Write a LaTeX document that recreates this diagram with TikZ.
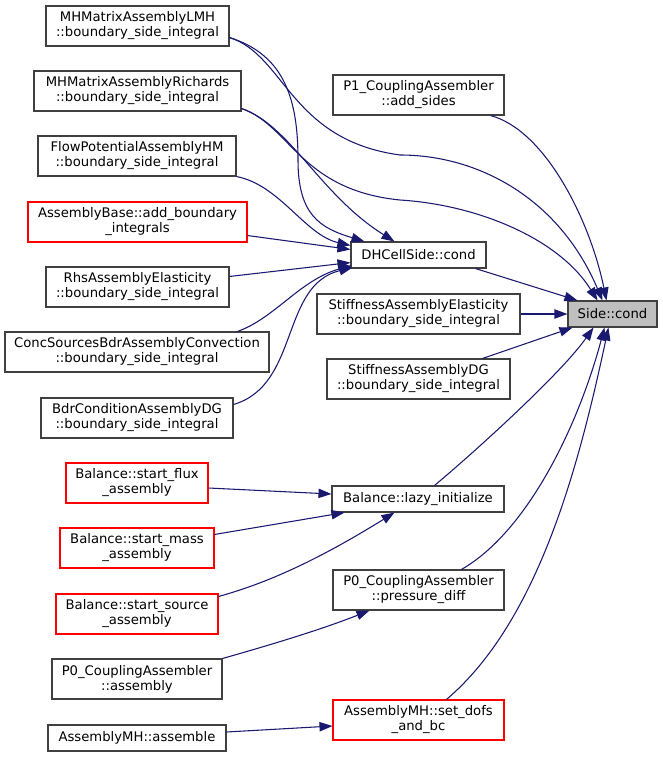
\documentclass[tikz,border=0pt]{standalone}
\usepackage{fontspec}
\setmainfont{DejaVu Sans}
\usetikzlibrary{arrows.meta,calc}
\definecolor{edgeblue}{RGB}{25,25,112}
\definecolor{boxline}{RGB}{64,64,64}
\definecolor{boxred}{RGB}{255,0,0}
\definecolor{curfill}{RGB}{191,191,191}

\begin{document}
\begin{tikzpicture}[x=0.75pt,y=0.75pt,yscale=-1,xscale=1,
  fn/.style={draw=boxline,line width=0.8pt,fill=white,align=center,inner sep=0pt,font=\fontsize{9.9}{11.25}\selectfont,minimum height=30pt},
  fnred/.style={fn,draw=boxred},
  fnone/.style={minimum height=19.5pt},
  fncur/.style={fn,fnone,fill=curfill},
  wd/.style={minimum width=#1*0.75pt},
  call/.style={draw=edgeblue,line width=0.8pt,-{Triangle[length=9.75pt,width=7pt]}}]
\useasboundingbox (0,0) rectangle (663,757);

%Left column
\node[fn,wd=183] (lmh) at (137.5,26) {MHMatrixAssemblyLMH\\::boundary\_side\_integral};
\node[fn,wd=207] (richards) at (137.5,91) {MHMatrixAssemblyRichards\\::boundary\_side\_integral};
\node[fn,wd=198] (flowpot) at (137,156) {FlowPotentialAssemblyHM\\::boundary\_side\_integral};
\node[fnred,wd=219] (asmbase) at (137.5,222) {AssemblyBase::add\_boundary\\\_integrals};
\node[fn,wd=183] (rhs) at (137.5,287) {RhsAssemblyElasticity\\::boundary\_side\_integral};
\node[fn,wd=264] (concsrc) at (137,352) {ConcSourcesBdrAssemblyConvection\\::boundary\_side\_integral};
\node[fn,wd=192] (bdrcond) at (137,418) {BdrConditionAssemblyDG\\::boundary\_side\_integral};
\node[fnred,wd=142] (flux) at (137,483) {Balance::start\_flux\\\_assembly};
\node[fnred,wd=154] (mass) at (137,548) {Balance::start\_mass\\\_assembly};
\node[fnred,wd=162] (source) at (137,614) {Balance::start\_source\\\_assembly};
\node[fn,wd=170] (p0asm) at (137,679) {P0\_CouplingAssembler\\::assembly};
\node[fn,fnone,wd=178] (mhasm) at (137,738) {AssemblyMH::assemble};

%Middle column
\node[fn,wd=171] (p1) at (418.5,95) {P1\_CouplingAssembler\\::add\_sides};
\node[fn,fnone,wd=135] (dh) at (418.5,255) {DHCellSide::cond};
\node[fn,wd=203] (stiffel) at (418.5,314) {StiffnessAssemblyElasticity\\::boundary\_side\_integral};
\node[fn,wd=183] (stiffdg) at (418.5,379) {StiffnessAssemblyDG\\::boundary\_side\_integral};
\node[fn,fnone,wd=172] (lazy) at (418,499) {Balance::lazy\_initialize};
\node[fn,wd=171] (pdiff) at (418.5,590) {P0\_CouplingAssembler\\::pressure\_diff};
\node[fnred,wd=171] (setdofs) at (418.5,720) {AssemblyMH::set\_dofs\\\_and\_bc};

%Current function
\node[fncur,wd=89] (side) at (612.5,314) {Side::cond};

%Calls into DHCellSide::cond
\draw[call] ($(lmh.south east)+(0,-9)$) .. controls (285,55) and (298,100) .. (298,160) .. controls (298,215) and (320,228) .. ($(dh.north west)+(14,0)$);
\draw[call] ($(richards.south east)+(0,-3)$) .. controls (290,125) and (320,195) .. ($(dh.north west)+(44,0)$);
\draw[call] (flowpot.south east) .. controls (280,185) and (305,235) .. ($(dh.north west)+(0,4)$);
\draw[call] ($(asmbase.south east)+(0,-7)$) -- ($(dh.north west)+(0,8)$);
\draw[call] ($(rhs.north east)+(0,10)$) -- ($(dh.south west)+(0,-6)$);
\draw[call] ($(concsrc.north east)+(-32,0)$) .. controls (275,318) and (300,280) .. ($(dh.south west)+(1,-3)$);
\draw[call] ($(bdrcond.north east)+(0,7)$) .. controls (300,385) and (280,285) .. ($(dh.south west)+(2,-1)$);

%Calls into Side::cond
\draw[call] ($(lmh.south east)+(0,-9)$) .. controls (285,55) and (290,140) .. (400,155) .. controls (480,155) and (560,200) .. ($(side.north west)+(35,0)$);
\draw[call] ($(richards.south east)+(0,-3)$) .. controls (290,125) and (300,190) .. (400,200) .. controls (480,205) and (560,240) .. ($(side.north west)+(30,0)$);
\draw[call] ($(p1.south east)+(-14,0)$) .. controls (545,130) and (590,220) .. ($(side.north west)+(39,0)$);
\draw[call] ($(dh.south east)+(-11,0)$) -- ($(side.north west)+(10,0)$);
\draw[call] (stiffel.east) -- (side.west);
\draw[call] ($(stiffdg.north east)+(-28,0)$) -- ($(side.south west)+(5,0)$);
\draw[call] ($(lazy.north west)+(103,0)$) .. controls (470,456) and (560,375) .. ($(side.south west)+(26,0)$);
\draw[call] ($(pdiff.north west)+(129,0)$) .. controls (530,530) and (580,420) .. ($(side.south west)+(37,0)$);
\draw[call] ($(setdofs.north west)+(114,0)$) .. controls (540,620) and (580,460) .. ($(side.south west)+(41,0)$);

%Lower calls
\draw[call] ($(flux.east)+(0,5)$) -- ($(lazy.west)+(0,-5)$);
\draw[call] ($(mass.north east)+(0,7)$) -- ($(lazy.south west)+(13,0)$);
\draw[call] ($(source.north east)+(0,3)$) .. controls (260,585) and (310,565) .. ($(lazy.south west)+(63,0)$);
\draw[call] (p0asm.north east) .. controls (270,645) and (320,630) .. ($(pdiff.south west)+(37,0)$);
\draw[call] ($(mhasm.east)+(0,-6)$) -- ($(setdofs.west)+(0,6)$);

\end{tikzpicture}
\end{document}
